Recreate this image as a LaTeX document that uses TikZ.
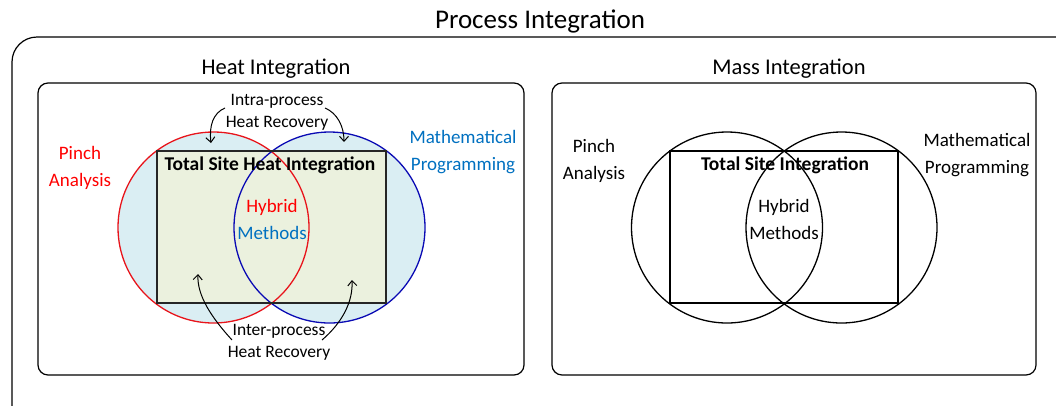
\documentclass[tikz,border=0pt]{standalone}
\usepackage{fontspec}
\setmainfont{Carlito}
\usetikzlibrary{arrows.meta}
\definecolor{pinchred}{HTML}{FF0000}
\definecolor{circred}{HTML}{E8141B}
\definecolor{circblue}{HTML}{0A0AB4}
\definecolor{mathblue}{HTML}{0070C0}
\definecolor{lightblue}{HTML}{DAEEF3}
\definecolor{lightgreen}{HTML}{EBF1DE}
\begin{document}
\begin{tikzpicture}[x=1pt,y=-1pt,
  panel/.style={draw=black, line width=1.2pt, rounded corners=10pt},
  venn/.style={circle, minimum size=191pt, inner sep=0pt, outer sep=0pt},
  tsbox/.style={rectangle, minimum width=229pt, minimum height=152pt, inner sep=0pt, outer sep=0pt},
  lbl/.style={align=center, font=\fontsize{19}{27}\selectfont, inner sep=0pt},
  small/.style={align=center, font=\fontsize{17.5}{22}\selectfont, inner sep=0pt},
  boldlbl/.style={font=\fontsize{19.5}{24}\selectfont\bfseries, inner sep=0pt},
  title/.style={font=\fontsize{27}{31}\selectfont, inner sep=0pt},
  subtitle/.style={font=\fontsize{22.5}{27}\selectfont, inner sep=0pt},
  conn/.style={-{Straight Barb[length=5pt,width=9pt]}, line width=1pt},
  outline/.style={line width=1.3pt},
]
\useasboundingbox (0,0) rectangle (1056,405);
\begin{scope}
\clip (0,0) rectangle (1056,405);
\draw[line width=1.2pt, rounded corners=25pt] (12,37) rectangle (1085,440);
\end{scope}
\node[title] (pi) at (540,21) {Process Integration};

% ---------- Heat Integration ----------
\node[subtitle] (hi) at (276,69) {Heat Integration};
\draw[panel] (38,83) rectangle (524,375);
\node[venn, fill=lightblue] (hpa) at (213.5,227.5) {};
\node[venn, fill=lightblue] (hmp) at (329.5,227.5) {};
\node[tsbox, fill=lightgreen] (hts) at (271.5,227) {};
\draw[outline, circred] (hpa) circle[radius=95.5];
\draw[outline, circblue] (hmp) circle[radius=95.5];
\draw[outline, black!85] (hts.north west) rectangle (hts.south east);

\node[lbl, text=pinchred] (hpinch) at (80,168) {Pinch\\Analysis};
\node[lbl, text=mathblue] (hmath) at (463,152) {Mathematical\\Programming};
\node[boldlbl] (htsl) at (270,165) {Total Site Heat Integration};
\node[lbl] (hhyb) at (272,219) {{\color{pinchred}Hybrid}\\{\color{mathblue}Methods}};
\node[small] (intra) at (277,112) {Intra-process\\Heat Recovery};
\node[small] (inter) at (279,342) {Inter-process\\Heat Recovery};

\coordinate (intraLs) at (225,108);
\coordinate (intraLe) at (211,143);
\coordinate (intraRs) at (325,108);
\coordinate (intraRe) at (344,142);
\coordinate (interLs) at (232,340);
\coordinate (interLe) at (198,274);
\coordinate (interRs) at (322,340);
\coordinate (interRe) at (352,280);
\draw[conn] (intraLs) .. controls (213,113) and (209,126) .. (intraLe);
\draw[conn] (intraRs) .. controls (337,113) and (344,126) .. (intraRe);
\draw[conn] (interLs) .. controls (212,318) and (197,296) .. (interLe);
\draw[conn] (interRs) .. controls (343,322) and (353,301) .. (interRe);

% ---------- Mass Integration ----------
\node[subtitle] (mi) at (789,69) {Mass Integration};
\draw[panel] (552,83) rectangle (1036,375);
\node[venn, draw, outline] (mpa) at (727,227.5) {};
\node[venn, draw, outline] (mmp) at (841.5,227.5) {};
\node[tsbox, draw, outline, minimum width=228pt] (mts) at (784,227) {};
\node[lbl] (mpinch) at (594,161) {Pinch\\Analysis};
\node[lbl] (mmath) at (977,155.5) {Mathematical\\Programming};
\node[boldlbl] (mtsl) at (785,165) {Total Site Integration};
\node[lbl] (mhyb) at (784,219) {Hybrid\\Methods};
\end{tikzpicture}
\end{document}
